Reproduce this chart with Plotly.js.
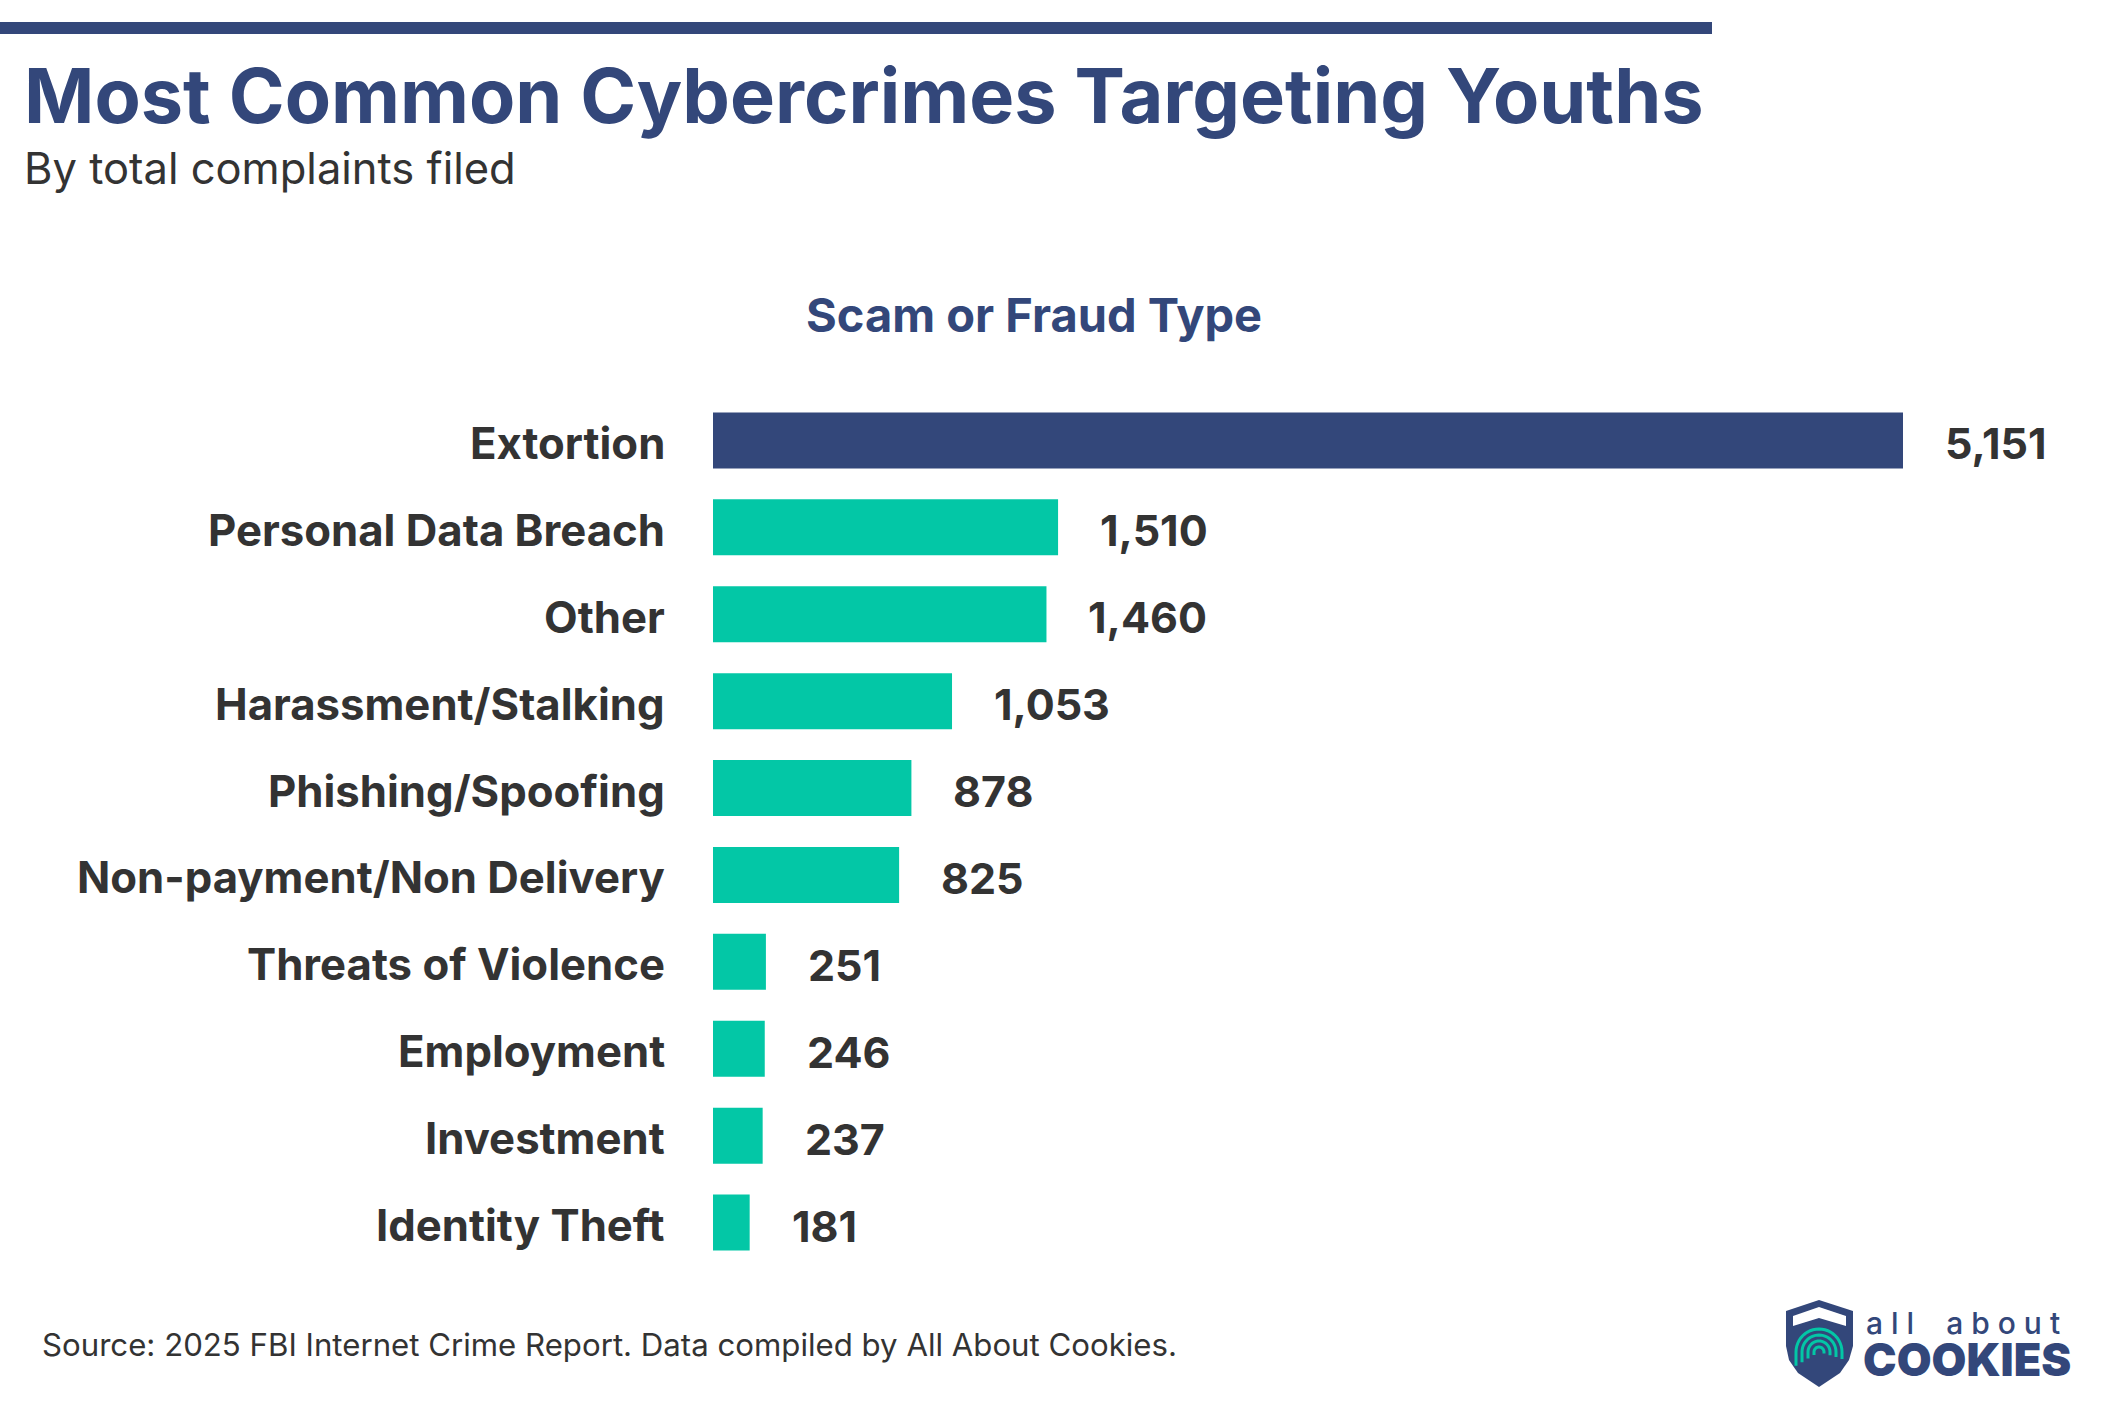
<!DOCTYPE html>
<html>
<head>
<meta charset="utf-8">
<script src="https://cdn.plot.ly/plotly-3.0.1.min.js"></script>
<style>
  html, body { margin: 0; padding: 0; background: #ffffff; }
  #chart { width: 2125px; height: 1421px; }
</style>
</head>
<body>
<div id="chart"></div>
<script>
// ---- Data ----
const categories = [
  "Extortion",
  "Personal Data Breach",
  "Other",
  "Harassment/Stalking",
  "Phishing/Spoofing",
  "Non-payment/Non Delivery",
  "Threats of Violence",
  "Employment",
  "Investment",
  "Identity Theft"
];
const complaints = [5151, 1510, 1460, 1053, 878, 825, 251, 246, 237, 181];
const highlightCategory = "Extortion";

const titleText = "Most Common Cybercrimes Targeting Youths";
const subtitleText = "By total complaints filed";
const axisTitleText = "Scam or Fraud Type";
const sourceText = "Source: 2025 FBI Internet Crime Report. Data compiled by All About Cookies.";
const logoLine1 = "a\u00a0l\u00a0l\u00a0\u00a0\u00a0\u00a0a\u00a0b\u00a0o\u00a0u\u00a0t";
const logoLine2 = "COOKIES";

// ---- Styling / layout ----
const W = 2125, H = 1421;
const M = { l: 713, r: 222, t: 397, b: 155 };
const PW = W - M.l - M.r, PH = H - M.t - M.b;
const NAVY = "#33477A";
const TEAL = "#03C7A6";
const DARK = "#333333";
const FONT = "Inter, 'Open Sans', sans-serif";

const px = x => (x - M.l) / PW;          // pixel -> paper x
const py = y => (H - M.b - y) / PH;      // pixel -> paper y

function pathFromPixels(pts, close) {
  let d = pts.map((p, i) => (i ? "L" : "M") + px(p[0]).toFixed(5) + "," + py(p[1]).toFixed(5)).join(" ");
  return close ? d + " Z" : d;
}

const barColors = categories.map(c => c === highlightCategory ? NAVY : TEAL);

const trace = {
  type: "bar",
  orientation: "h",
  y: categories,
  x: complaints,
  marker: { color: barColors, line: { width: 0 } },
  hoverinfo: "skip"
};

const valueAnnotations = categories.map((c, i) => ({
  xref: "x", yref: "y",
  x: complaints[i], y: c,
  text: complaints[i].toLocaleString("en-US"),
  showarrow: false,
  xanchor: "left", yanchor: "middle",
  xshift: 40, yshift: -3,
  font: { family: FONT, size: 43, color: DARK, weight: 700 }
}));

const categoryAnnotations = categories.map(c => ({
  xref: "paper", yref: "y",
  x: 0, y: c,
  text: c,
  showarrow: false,
  xanchor: "right", yanchor: "middle",
  xshift: -46, yshift: -3,
  font: { family: FONT, size: 43.7, color: DARK, weight: 700 }
}));

const textAnnotations = [
  { text: titleText, x: px(22), y: py(95), xanchor: "left", yanchor: "middle",
    font: { family: FONT, size: 75.6, color: NAVY, weight: 700 } },
  { text: subtitleText, x: px(22), y: py(168), xanchor: "left", yanchor: "middle",
    font: { family: FONT, size: 43.5, color: DARK, weight: 400 } },
  { text: axisTitleText, x: px(1034), y: py(314), xanchor: "center", yanchor: "middle",
    font: { family: FONT, size: 47, color: NAVY, weight: 700 } },
  { text: sourceText, x: px(40), y: py(1345), xanchor: "left", yanchor: "middle",
    font: { family: FONT, size: 31.2, color: DARK, weight: 400 } },
  // logo text
  { text: logoLine1, x: px(1864), y: py(1323), xanchor: "left", yanchor: "middle",
    font: { family: FONT, size: 30, color: NAVY, weight: 500 } },
  { text: logoLine2, x: px(1861), y: py(1359), xanchor: "left", yanchor: "middle",
    font: { family: FONT, size: 45, color: NAVY, weight: 900 } }
].map(a => Object.assign({ xref: "paper", yref: "paper", showarrow: false }, a));

// logo shield shapes
const shieldOuter = pathFromPixels([
  [1786, 1311], [1819, 1300], [1853, 1311], [1853, 1346],
  [1849, 1360], [1840, 1373], [1819, 1387], [1798, 1373], [1789, 1360], [1786, 1346]
], true);
const shieldChevron = pathFromPixels([
  [1793, 1316], [1819, 1307], [1846, 1316], [1846, 1326], [1819, 1318], [1793, 1326]
], true);

// fingerprint: arcs opening downward
function fingerArc(cx, cy, r) {
  const pts = [];
  for (let k = 0; k <= 24; k++) {
    const a = Math.PI * k / 24;
    pts.push([cx - r * Math.cos(a), cy - r * Math.sin(a)]);
  }
  pts.unshift([cx - r, cy + r * 0.6]);
  pts.push([cx + r, cy + r * 0.3]);
  return pathFromPixels(pts, false);
}

const shapes = [
  { type: "rect", xref: "paper", yref: "paper",
    x0: px(0), x1: px(1712), y0: py(34), y1: py(22),
    fillcolor: NAVY, line: { width: 0 } },
  { type: "path", xref: "paper", yref: "paper", path: shieldOuter, fillcolor: NAVY, line: { width: 0 } },
  { type: "path", xref: "paper", yref: "paper", path: shieldChevron, fillcolor: "#ffffff", line: { width: 0 } },
  { type: "path", xref: "paper", yref: "paper", path: fingerArc(1819, 1352, 5), fillcolor: "rgba(0,0,0,0)", line: { color: TEAL, width: 3 } },
  { type: "path", xref: "paper", yref: "paper", path: fingerArc(1819, 1352, 11), fillcolor: "rgba(0,0,0,0)", line: { color: TEAL, width: 3 } },
  { type: "path", xref: "paper", yref: "paper", path: fingerArc(1819, 1352, 17), fillcolor: "rgba(0,0,0,0)", line: { color: TEAL, width: 3 } },
  { type: "path", xref: "paper", yref: "paper", path: fingerArc(1819, 1352, 23), fillcolor: "rgba(0,0,0,0)", line: { color: TEAL, width: 3 } }
];

const layout = {
  width: W, height: H,
  margin: M,
  paper_bgcolor: "#ffffff",
  plot_bgcolor: "#ffffff",
  showlegend: false,
  bargap: 0.356,
  font: { family: FONT, color: DARK },
  xaxis: {
    range: [23, Math.max(...complaints)],
    visible: false, fixedrange: true
  },
  yaxis: {
    type: "category",
    autorange: "reversed",
    showgrid: false, zeroline: false, showline: false,
    ticks: "",
    showticklabels: false,
    fixedrange: true
  },
  annotations: valueAnnotations.concat(categoryAnnotations, textAnnotations),
  shapes: shapes
};

Plotly.newPlot("chart", [trace], layout, { displayModeBar: false, staticPlot: true });
</script>
</body>
</html>
